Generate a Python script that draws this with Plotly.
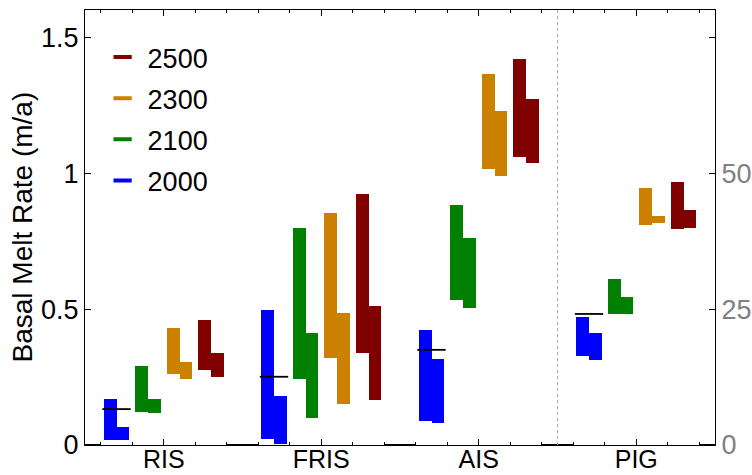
import plotly.graph_objects as go

# regions along the x axis, PIG is plotted against the right axis
regions = ["RIS", "FRIS", "AIS", "PIG"]
years = [2000, 2100, 2300, 2500]
colors = ["#0000ff", "#008000", "#cc8000", "#800000"]

# left-axis regions: range of the first (left) and second (right) bar per year, m/a
ris_hi_1 = [0.169, 0.290, 0.430, 0.459]
ris_lo_1 = [0.018, 0.121, 0.261, 0.277]
ris_hi_2 = [0.067, 0.169, 0.305, 0.338]
ris_lo_2 = [0.018, 0.118, 0.243, 0.250]

fris_hi_1 = [0.496, 0.798, 0.853, 0.923]
fris_lo_1 = [0.023, 0.243, 0.320, 0.338]
fris_hi_2 = [0.180, 0.412, 0.485, 0.511]
fris_lo_2 = [0.002, 0.099, 0.152, 0.165]

ais_hi_1 = [0.423, 0.882, 1.364, 1.419]
ais_lo_1 = [0.089, 0.534, 1.016, 1.060]
ais_hi_2 = [0.316, 0.761, 1.228, 1.272]
ais_lo_2 = [0.081, 0.505, 0.990, 1.038]

# PIG on the right axis
pig_hi_1 = [23.5, 30.5, 47.2, 48.3]
pig_lo_1 = [16.4, 24.1, 40.4, 39.7]
pig_hi_2 = [20.6, 27.2, 42.1, 43.2]
pig_lo_2 = [15.6, 24.1, 40.8, 39.9]

# observed present-day values (black lines over the 2000 bars)
observed = [0.132, 0.251, 0.350, 24.1]

left_ticks = [0, 0.5, 1, 1.5]
left_labels = ["0", "0.5", "1", "1.5"]
right_ticks = [0, 25, 50, 75]
right_labels = ["0", "25", "50", ""]

groups = [
    (ris_lo_1, ris_hi_1, ris_lo_2, ris_hi_2, "y"),
    (fris_lo_1, fris_hi_1, fris_lo_2, fris_hi_2, "y"),
    (ais_lo_1, ais_hi_1, ais_lo_2, ais_hi_2, "y"),
    (pig_lo_1, pig_hi_1, pig_lo_2, pig_hi_2, "y2"),
]

slots = 5      # 4 years + a gap per region
bw = 0.4
fs = 27

fig = go.Figure()

for k, (yr, col) in enumerate(zip(years, colors)):
    for g, (lo1, hi1, lo2, hi2, ax) in enumerate(groups):
        c = g * slots + 1 + k
        fig.add_trace(go.Bar(
            x=[c - bw / 2, c + bw / 2],
            base=[lo1[k], lo2[k]],
            y=[hi1[k] - lo1[k], hi2[k] - lo2[k]],
            width=bw, yaxis=ax,
            marker=dict(color=col, line=dict(width=0)),
            showlegend=False, hoverinfo="skip",
        ))

# observed lines
for g, val in enumerate(observed):
    c = g * slots + 1
    fig.add_trace(go.Scatter(
        x=[c - 0.45, c + 0.45], y=[val, val], mode="lines",
        yaxis=groups[g][4], line=dict(color="black", width=1.8),
        showlegend=False, hoverinfo="skip",
    ))

# dark baseline pieces in the gaps
gx = []
for g in range(len(regions) + 1):
    gx += [max(g * slots - 0.5, 0), min(g * slots + 0.5, slots * len(regions)), None]
fig.add_trace(go.Scatter(x=gx, y=[0, 0, None] * (len(regions) + 1), mode="lines",
                         line=dict(color="black", width=2), showlegend=False,
                         hoverinfo="skip"))

# legend entries (2500 on top)
for yr, col in reversed(list(zip(years, colors))):
    fig.add_trace(go.Scatter(
        x=[None], y=[None], mode="markers", name=str(yr), legendgroup=str(yr),
        marker=dict(symbol="line-ew", size=13, color=col,
                    line=dict(color=col, width=4)),
    ))

fig.add_vline(x=3 * slots, line=dict(color="#aaaaaa", width=1, dash="dot"))

fig.add_annotation(text="Basal Melt Rate (m/a)", textangle=-90,
                   xref="paper", yref="paper", x=-0.1, y=0.5,
                   xanchor="center", yanchor="middle", showarrow=False,
                   font=dict(size=28, color="black"))

n = slots * len(regions)
fig.update_layout(
    width=752, height=475,
    margin=dict(l=85, r=37, t=10, b=30),
    plot_bgcolor="white", paper_bgcolor="white",
    font=dict(family="Liberation Sans, Arial, sans-serif", size=fs, color="black"),
    barmode="overlay", bargap=0,
    showlegend=True,
    legend=dict(x=0.02, y=0.947, xanchor="left", yanchor="top",
                bgcolor="rgba(0,0,0,0)", font=dict(size=fs),
                itemwidth=40, tracegroupgap=3),
    xaxis=dict(range=[0, n], tickvals=[g * slots + 2.5 for g in range(len(regions))],
               ticktext=regions, ticks="inside", ticklen=6, tickcolor="black",
               tickfont=dict(size=25), ticklabelstandoff=-8,
               showline=True, linecolor="black", linewidth=1, mirror="ticks",
               showgrid=False, zeroline=False, automargin=False,
               minor=dict(tickvals=[i + 0.5 for i in range(n) if (i + 0.5) % slots != 2.5],
                          ticks="inside", ticklen=3, tickcolor="black")),
    yaxis=dict(range=[0, 1.6], tickvals=left_ticks, ticktext=left_labels,
               ticks="inside", ticklen=6, tickcolor="black",
               showline=True, linecolor="black", linewidth=1,
               showgrid=False, zeroline=False, automargin=False),
    yaxis2=dict(range=[0, 80], overlaying="y", side="right",
                tickvals=right_ticks, ticktext=right_labels,
                tickfont=dict(color="#808080", size=fs),
                ticks="inside", ticklen=6, tickcolor="black",
                showline=True, linecolor="black", linewidth=1,
                showgrid=False, zeroline=False, automargin=False),
)

# drop the default page margin so the figure sits at the window's corner
fig.write_html("out.html", config={"displayModeBar": False},
               post_script="document.body.style.margin='0';")
